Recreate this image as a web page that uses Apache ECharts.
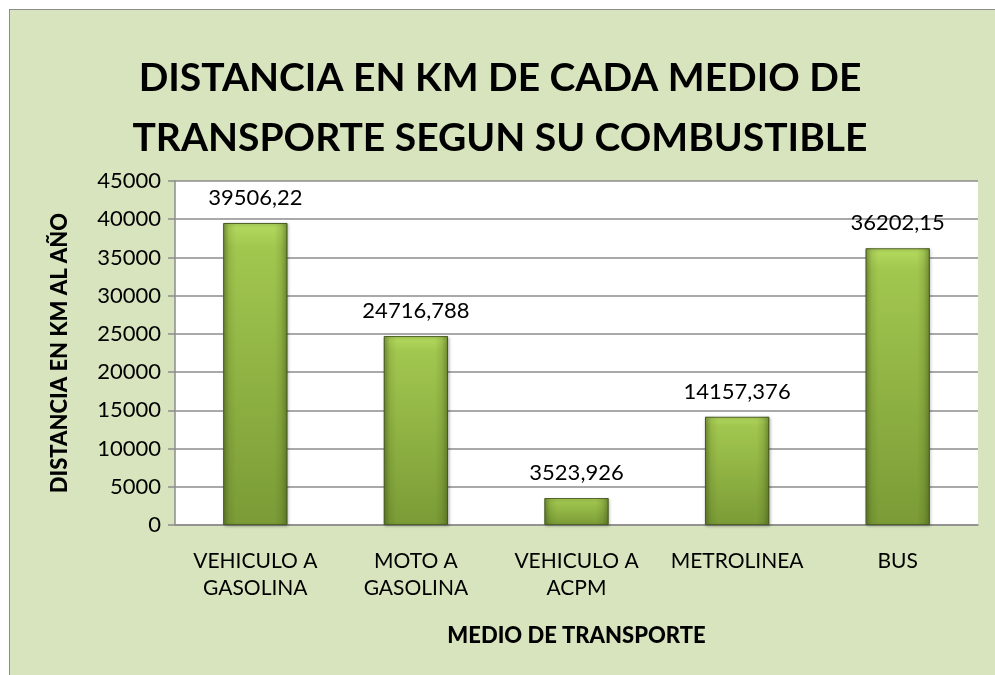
<!DOCTYPE html>
<html>
<head>
<meta charset="utf-8">
<script src="https://cdn.jsdelivr.net/npm/echarts@6/dist/echarts.min.js"></script>
<style>
html,body{margin:0;padding:0;background:#ffffff;width:995px;height:675px;overflow:hidden;}
#frame{position:absolute;left:9px;top:9px;width:986px;height:666px;border-left:1px solid #8c8c8c;border-top:1px solid #8c8c8c;background:#D7E4BD;}
#chart{width:986px;height:666px;}
</style>
</head>
<body>
<div id="frame"><div id="chart"></div></div>
<script>
const titleLines = ['DISTANCIA EN KM DE CADA MEDIO DE', 'TRANSPORTE SEGUN SU COMBUSTIBLE'];
const categories = ['VEHICULO A\nGASOLINA', 'MOTO A\nGASOLINA', 'VEHICULO A\nACPM', 'METROLINEA', 'BUS'];
const values = [39506.22, 24716.788, 3523.926, 14157.376, 36202.15];
const yAxisName = 'DISTANCIA EN KM AL AÑO';
const xAxisName = 'MEDIO DE TRANSPORTE';
const yMin = 0, yMax = 45000, yStep = 5000;

const FONT = 'Lato, "Open Sans", sans-serif';
const chart = echarts.init(document.getElementById('chart'), null, {renderer: 'canvas'});
chart.setOption({
  backgroundColor: 'transparent',
  animation: false,
  title: {
    text: titleLines.join('\n'),
    left: 485, top: 33, textAlign: 'center',
    textStyle: {fontFamily: FONT, fontWeight: 'bold', fontSize: 39, lineHeight: 60, color: '#000'}
  },
  grid: {left: 165, top: 171, right: 18, bottom: 151, show: true, backgroundColor: '#ffffff', borderWidth: 0},
  xAxis: {
    type: 'category', data: categories,
    name: xAxisName, nameLocation: 'middle', nameGap: 100,
    nameTextStyle: {fontFamily: FONT, fontWeight: 900, fontSize: 22, color: '#000'},
    axisLine: {lineStyle: {color: '#8c8c8c', width: 1.5}},
    axisTick: {show: false},
    axisLabel: {fontFamily: FONT, fontSize: 21, color: '#000', lineHeight: 27, margin: 23, interval: 0}
  },
  yAxis: {
    type: 'value', min: yMin, max: yMax, interval: yStep,
    name: yAxisName, nameLocation: 'middle', nameGap: 104, nameRotate: 90,
    nameTextStyle: {fontFamily: FONT, fontWeight: 900, fontSize: 22, color: '#000'},
    axisLine: {show: true, lineStyle: {color: '#8c8c8c', width: 1.5}},
    axisTick: {show: true, length: 7, lineStyle: {color: '#8c8c8c', width: 1.5}},
    axisLabel: {fontFamily: FONT, fontSize: 22, color: '#000', margin: 14, formatter: v => String(v)},
    splitLine: {lineStyle: {color: '#8c8c8c', width: 1.5}}
  },
  series: [
    {
      type: 'bar', data: values, barWidth: '40%',
      itemStyle: {
        color: new echarts.graphic.LinearGradient(0, 0, 0, 1, [
          {offset: 0, color: '#B4DA5E'},
          {offset: 0.08, color: '#A2C74F'},
          {offset: 1, color: '#7A9B36'}
        ]),
        borderColor: '#4F6228', borderWidth: 1,
        shadowColor: 'rgba(0,0,0,0.25)', shadowBlur: 3, shadowOffsetX: 1, shadowOffsetY: 1
      },
      label: {
        show: true, position: 'top', distance: 14,
        fontFamily: FONT, fontSize: 22, color: '#000',
        formatter: p => String(p.value).replace('.', ',')
      }
    },
    {
      type: 'bar', data: values, barWidth: '40%', barGap: '-100%', silent: true,
      itemStyle: {
        color: new echarts.graphic.LinearGradient(0, 0, 1, 0, [
          {offset: 0, color: 'rgba(60,80,20,0.45)'},
          {offset: 0.1, color: 'rgba(60,80,20,0.12)'},
          {offset: 0.2, color: 'rgba(60,80,20,0)'},
          {offset: 0.8, color: 'rgba(60,80,20,0)'},
          {offset: 0.9, color: 'rgba(60,80,20,0.15)'},
          {offset: 1, color: 'rgba(60,80,20,0.5)'}
        ])
      }
    }
  ]
});
</script>
</body>
</html>
